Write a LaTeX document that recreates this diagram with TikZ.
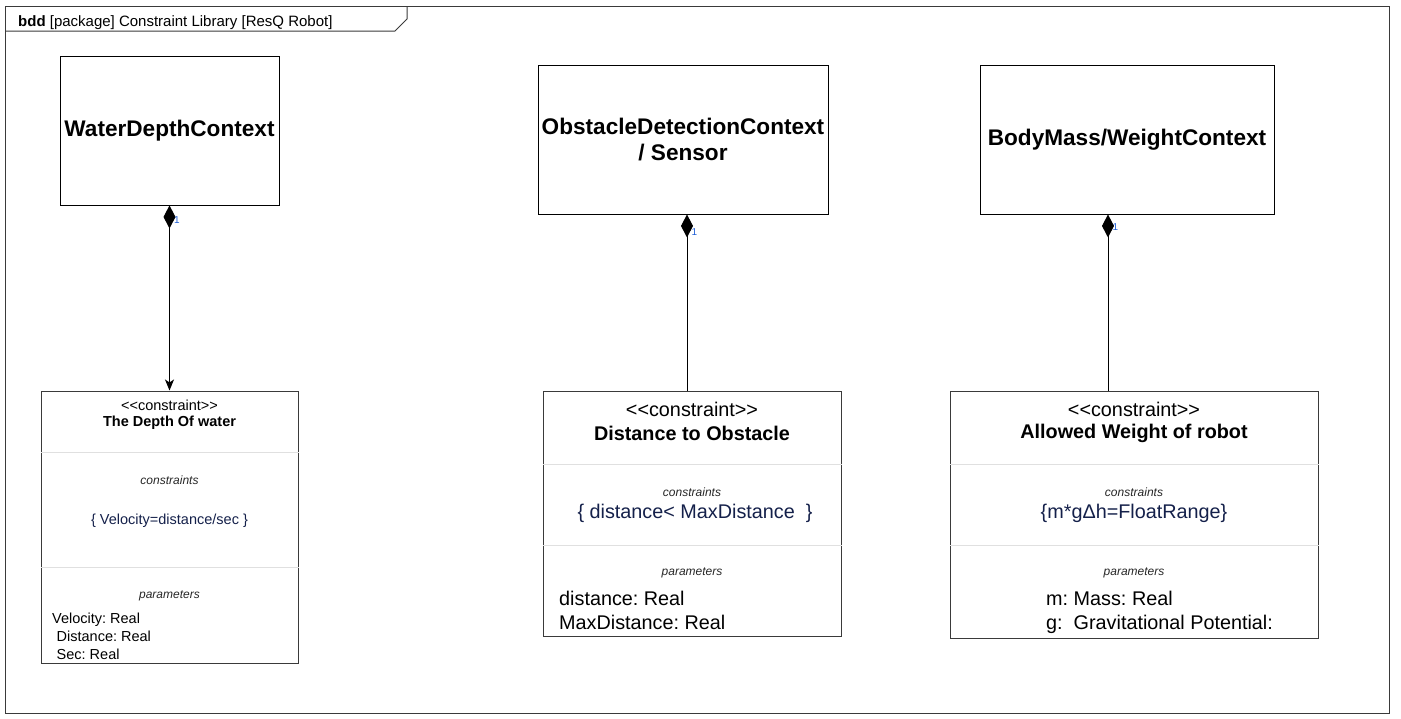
\documentclass[tikz,border=0pt]{standalone}
\usepackage{fontspec}
\setmainfont{Liberation Sans}
\usepackage{tikz}
\usetikzlibrary{positioning, calc, arrows.meta}
\definecolor{framegray}{HTML}{3A3A3A}
\definecolor{sepgray}{HTML}{E0E0E0}
\definecolor{exprblue}{HTML}{14204A}
\definecolor{multblue}{HTML}{1F5FD6}
\newcommand{\stereotype}[1]{<\kern0pt<#1>\kern0pt>}
\frenchspacing

\begin{document}
\begin{tikzpicture}[x=1pt, y=-1pt,
		ctx/.style={draw=black, line width=0.9pt, align=center, inner sep=0pt, font=\fontsize{22.6}{26}\selectfont\bfseries},
		cblock/.style={draw=framegray, line width=1pt, inner sep=0pt},
		sep/.style={draw=sepgray, line width=0.8pt},
		small/.style={font=\fontsize{14.5}{18}\selectfont},
		big/.style={font=\fontsize{19.8}{24}\selectfont},
		complabel/.style={font=\fontsize{12}{14}\selectfont\itshape, text=black!85},
		comp/.style={draw=black, line width=1pt},
		mult/.style={font=\fontsize{10}{11}\selectfont, text=multblue, anchor=west, inner sep=0pt, xshift=4pt}]
		\useasboundingbox (0,0) rectangle (1401,718);
		
		% frame and header tab
		\draw[framegray, line width=1pt] (5,6) rectangle (1389,713);
		\draw[framegray, line width=1pt] (5,31) -- (395,31) -- (407,19) -- (407,6);
		\node[anchor=base west, inner sep=0pt, font=\fontsize{15}{16}\selectfont] (hdr) at (18,26) {\textbf{bdd} [package] Constraint Library [ResQ Robot]};
		
		% blocks
		\node[ctx, minimum width=219, minimum height=149] (wdc) at (169.5,130.5) {WaterDepthContext};
		\node[ctx, minimum width=290, minimum height=149] (odc) at (683,139.5) {ObstacleDetectionContext\\/ Sensor};
		\node[ctx, minimum width=294, minimum height=149] (bmc) at (1127,139.5) {BodyMass/WeightContext};
		
		% constraint blocks
		\node[cblock, minimum width=257, minimum height=272] (c1) at (169.5,527) {};
		\node[cblock, minimum width=298, minimum height=245] (c2) at (692,513.5) {};
		\node[cblock, minimum width=368, minimum height=247] (c3) at (1134,514.5) {};
		
		\draw[sep] (c1.west |- 0,452) -- (c1.east |- 0,452);
		\draw[sep] (c1.west |- 0,567) -- (c1.east |- 0,567);
		\draw[sep] (c2.west |- 0,464) -- (c2.east |- 0,464);
		\draw[sep] (c2.west |- 0,545) -- (c2.east |- 0,545);
		\draw[sep] (c3.west |- 0,464) -- (c3.east |- 0,464);
		\draw[sep] (c3.west |- 0,545) -- (c3.east |- 0,545);
		
		% The Depth Of water
		\node[small] (c1st) at (169.5,405) {\stereotype{constraint}};
		\node[small, font=\fontsize{14.5}{18}\selectfont\bfseries] (c1name) at (169.5,423) {The Depth Of water};
		\node[complabel] (c1cl) at (169.5,480) {constraints};
		\node[small, text=exprblue] (c1ex) at (169.5,521) {\{ Velocity=distance/sec \}};
		\node[complabel] (c1pl) at (169.5,596) {parameters};
		\node[small, anchor=north west, align=left, inner sep=0pt] (c1par) at (52,613) {Velocity: Real\\\hspace*{4.5pt}Distance: Real\\\hspace*{4.5pt}Sec: Real};
		
		% Distance to Obstacle
		\node[big] (c2st) at (692,409) {\stereotype{constraint}};
		\node[big, font=\fontsize{19.8}{24}\selectfont\bfseries] (c2name) at (692,433) {Distance to Obstacle};
		\node[complabel] (c2cl) at (692,492) {constraints};
		\node[big, text=exprblue] (c2ex) at (695,513) {\{ distance< MaxDistance\ \ \}};
		\node[complabel] (c2pl) at (692,573) {parameters};
		\node[big, anchor=north west, align=left, inner sep=0pt] (c2par) at (559,591) {distance: Real\\MaxDistance: Real};
		
		% Allowed Weight of robot
		\node[big] (c3st) at (1134,409) {\stereotype{constraint}};
		\node[big, font=\fontsize{19.8}{24}\selectfont\bfseries] (c3name) at (1134,433) {Allowed Weight of robot};
		\node[complabel] (c3cl) at (1134,492) {constraints};
		\node[big, text=exprblue] (c3ex) at (1134,513) {\{m*gΔh=FloatRange\}};
		\node[complabel] (c3pl) at (1134,573) {parameters};
		\node[big, anchor=north west, align=left, inner sep=0pt] (c3par) at (1046,591) {m: Mass: Real\\g:\ \ Gravitational Potential:};
		
		% compositions
		\draw[comp, {Diamond[length=23pt,width=12pt]}-{Stealth[length=11pt,width=9pt,inset=3pt]}] (wdc.south) -- (c1.north) node[mult, pos=0.08] {1};
		\draw[comp, {Diamond[length=23pt,width=12pt]}-] (odc.south -| 687,0) -- (c2.north -| 687,0) node[mult, pos=0.1] {1};
		\draw[comp, {Diamond[length=23pt,width=12pt]}-] (bmc.south -| 1108,0) -- (c3.north -| 1108,0) node[mult, pos=0.07] {1};
\end{tikzpicture}
\end{document}
